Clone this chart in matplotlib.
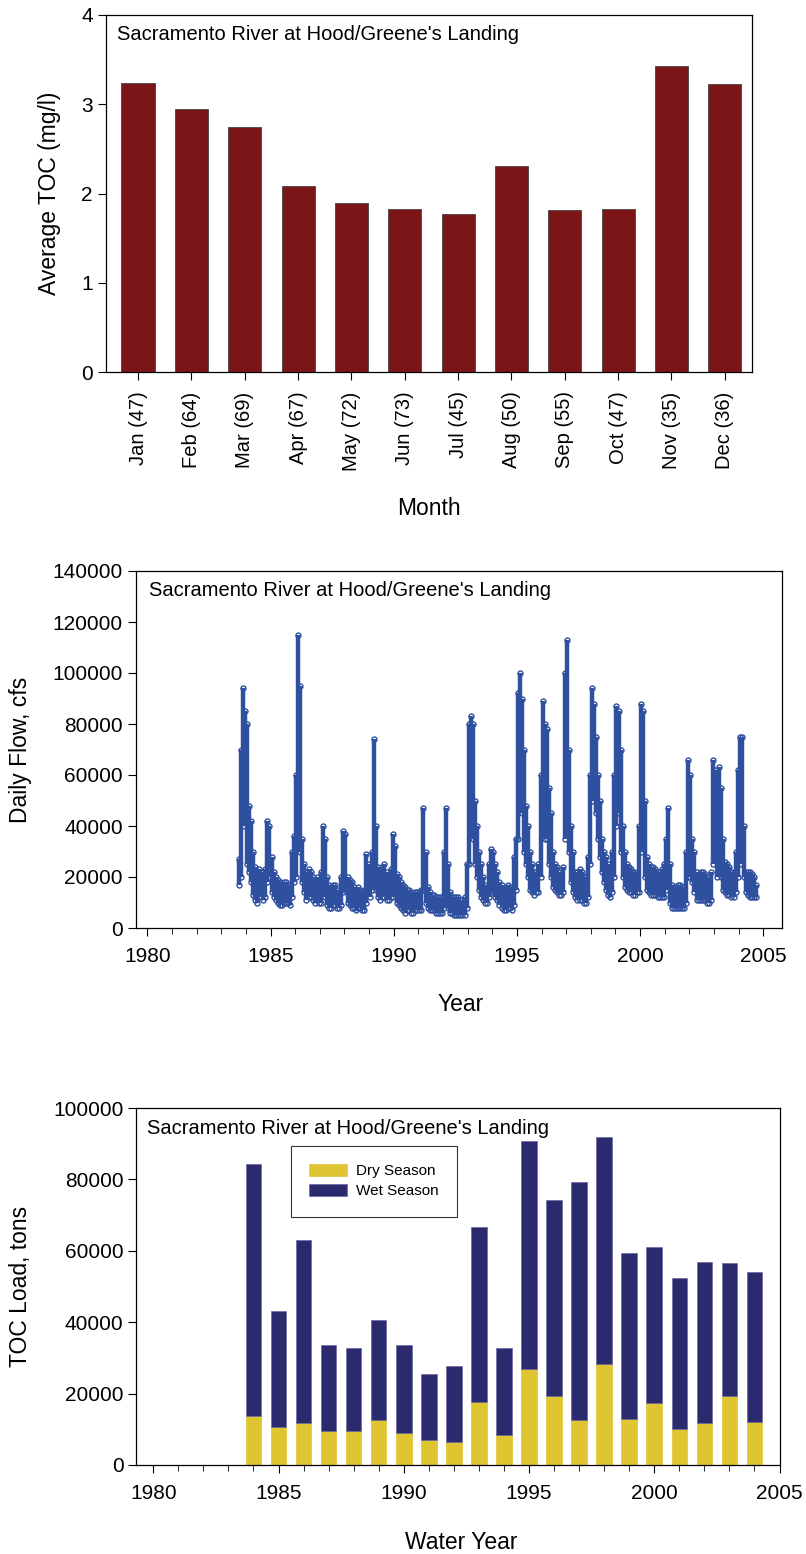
import numpy as np
import matplotlib
matplotlib.use("Agg")
import matplotlib.pyplot as plt
from matplotlib.ticker import MultipleLocator

plt.rcParams['font.family'] = ['Liberation Sans', 'DejaVu Sans']

site = "Sacramento River at Hood/Greene's Landing"

# panel 1 - monthly average TOC
months = ['Jan (47)', 'Feb (64)', 'Mar (69)', 'Apr (67)', 'May (72)', 'Jun (73)',
          'Jul (45)', 'Aug (50)', 'Sep (55)', 'Oct (47)', 'Nov (35)', 'Dec (36)']
avg_toc = [3.24, 2.95, 2.75, 2.08, 1.89, 1.83, 1.77, 2.31, 1.82, 1.83, 3.43, 3.23]

# panel 2 - daily flow, monthly low / high envelope (1000 cfs)
flow_start = 1983 + 8.5 / 12  # Sep 1983
flow_low = [
    17, 20, 40, 45,                                   # 1983 Sep-Dec
    25, 22, 18, 13, 11, 10, 12, 12, 11, 12, 18, 20,   # 1984
    14, 12, 11, 10, 9, 9, 10, 10, 10, 9, 12, 18,      # 1985
    20, 45, 30, 18, 14, 11, 12, 12, 11, 10, 11, 10,   # 1986
    10, 14, 12, 9, 8, 8, 9, 9, 8, 8, 9, 14,           # 1987
    15, 10, 9, 8, 8, 7, 8, 8, 7, 7, 10, 15,           # 1988
    12, 15, 25, 15, 12, 11, 12, 12, 11, 11, 12, 12,   # 1989
    14, 10, 9, 8, 7, 6, 7, 7, 6, 6, 7, 7,             # 1990
    7, 7, 15, 10, 8, 7, 7, 7, 6, 6, 6, 6,             # 1991
    8, 12, 8, 6, 6, 5, 5, 5, 5, 5, 5, 8,              # 1992
    25, 40, 35, 25, 20, 15, 12, 11, 10, 10, 12, 15,   # 1993
    14, 12, 11, 9, 8, 7, 7, 8, 8, 7, 9, 15,           # 1994
    35, 50, 45, 30, 25, 20, 15, 14, 13, 14, 14, 20,   # 1995
    40, 35, 35, 25, 20, 16, 15, 14, 13, 13, 14, 35,   # 1996
    50, 30, 18, 14, 12, 11, 11, 11, 10, 10, 12, 25,   # 1997
    50, 55, 45, 35, 28, 22, 18, 15, 13, 12, 14, 20,   # 1998
    40, 45, 30, 20, 16, 15, 14, 14, 13, 13, 14, 14,   # 1999
    30, 40, 20, 15, 14, 13, 13, 13, 12, 12, 12, 12,   # 2000
    15, 18, 10, 8, 8, 8, 8, 8, 8, 8, 10, 20,          # 2001
    20, 18, 14, 11, 11, 11, 11, 11, 10, 10, 11, 25,   # 2002
    30, 20, 25, 20, 15, 14, 13, 13, 12, 12, 14, 20,   # 2003
    25, 30, 20, 14, 13, 12, 12, 12, 12,               # 2004 Jan-Sep
]
flow_high = [
    27, 70, 94, 85,
    80, 48, 42, 30, 24, 22, 23, 22, 20, 23, 42, 40,
    28, 22, 20, 19, 18, 17, 18, 18, 17, 16, 30, 36,
    60, 115, 95, 35, 25, 22, 23, 22, 20, 18, 20, 18,
    22, 40, 35, 20, 17, 16, 17, 17, 15, 14, 20, 38,
    37, 20, 19, 18, 16, 15, 16, 15, 14, 15, 29, 25,
    24, 30, 74, 40, 24, 22, 24, 25, 22, 21, 23, 37,
    32, 21, 20, 18, 17, 16, 15, 15, 14, 13, 14, 14,
    14, 15, 47, 30, 16, 14, 13, 13, 12, 12, 12, 12,
    30, 47, 25, 14, 12, 12, 12, 12, 11, 11, 12, 25,
    80, 83, 80, 50, 40, 30, 25, 20, 17, 16, 25, 31,
    30, 25, 22, 18, 17, 15, 16, 17, 16, 14, 28, 35,
    92, 100, 90, 70, 48, 40, 30, 25, 22, 22, 25, 60,
    89, 80, 78, 55, 45, 30, 25, 24, 22, 21, 24, 100,
    113, 70, 40, 30, 22, 22, 23, 22, 20, 20, 28, 60,
    94, 88, 75, 60, 50, 35, 30, 28, 25, 24, 30, 60,
    87, 85, 70, 40, 30, 25, 24, 23, 22, 21, 22, 40,
    88, 85, 50, 28, 25, 24, 24, 23, 22, 22, 23, 25,
    35, 47, 25, 17, 16, 16, 17, 17, 16, 15, 30, 66,
    60, 35, 30, 22, 21, 22, 22, 21, 20, 19, 22, 66,
    62, 45, 63, 55, 35, 26, 25, 24, 22, 22, 30, 62,
    75, 75, 40, 22, 22, 22, 21, 20, 17,
]

# panel 3 - TOC load by water year (tons)
water_years = list(range(1984, 2005))
dry_load = [13800, 10700, 11700, 9600, 9600, 12700, 9100, 7100, 6500, 17700, 8500,
            27000, 19400, 12700, 28400, 13000, 17500, 10200, 11700, 19400, 12100]
wet_load = [70400, 32400, 51200, 24100, 23300, 27900, 24500, 18400, 21200, 48900, 24300,
            63800, 54900, 66600, 63400, 46400, 43700, 42300, 45300, 37200, 41900]

W, H = 806, 1554
fig = plt.figure(figsize=(W / 100, H / 100), dpi=100)


def box(l, r, t, b):
    return [l / W, 1 - b / H, (r - l) / W, (b - t) / H]


tick_fs = 15
lab_fs = 16.5
title_fs = 14.5

# ---- panel 1
ax1 = fig.add_axes(box(106, 752, 15, 372))
x = np.arange(len(months))
ax1.bar(x, avg_toc, width=0.62, color='#7b1517', edgecolor='#444444', linewidth=0.6)
ax1.set_xlim(-0.6, 11.51)
ax1.set_ylim(0, 4)
ax1.set_yticks([0, 1, 2, 3, 4])
ax1.set_xticks(x)
ax1.set_xticklabels(months, rotation=90, fontsize=14.5)
ax1.tick_params(axis='x', direction='out', length=6, pad=8)
ax1.tick_params(axis='y', direction='out', length=6, pad=3.5, labelsize=tick_fs)
ax1.set_ylabel('Average TOC (mg/l)', fontsize=lab_fs)
ax1.yaxis.set_label_coords((61 - 106) / 646, 0.5)
ax1.set_xlabel('Month', fontsize=lab_fs)
ax1.xaxis.set_label_coords(0.5, (372 - 497) / 357)
ax1.text(0.017, 0.944, site, transform=ax1.transAxes, fontsize=title_fs, va='center')

# ---- panel 2
ax2 = fig.add_axes(box(136, 782, 571, 928))
dates = flow_start + np.arange(len(flow_low)) / 12
lo = np.array(flow_low) * 1000
hi = np.array(flow_high) * 1000
blue = '#2f4f9f'
ax2.vlines(dates, lo, hi, color=blue, linewidth=3.2)
ax2.plot(dates, lo, 'o', ms=3.6, mfc='none', mec=blue, mew=1.0)
ax2.plot(dates, hi, 'o', ms=3.6, mfc='none', mec=blue, mew=1.0)
ax2.set_xlim(1979.54, 2005.76)
ax2.set_ylim(0, 140000)
ax2.set_yticks(range(0, 140001, 20000))
ax2.set_xticks(range(1980, 2006, 5))
ax2.xaxis.set_minor_locator(MultipleLocator(1))
ax2.tick_params(axis='both', which='major', direction='out', length=6, labelsize=tick_fs)
ax2.tick_params(axis='x', which='major', pad=7.5)
ax2.tick_params(axis='y', pad=3.5)
ax2.tick_params(axis='x', which='minor', direction='out', length=4)
ax2.set_ylabel('Daily Flow, cfs', fontsize=lab_fs)
ax2.yaxis.set_label_coords((32 - 136) / 646, 0.5)
ax2.set_xlabel('Year', fontsize=lab_fs)
ax2.xaxis.set_label_coords(0.502, (928 - 993) / 357)
ax2.text(0.0197, 0.945, site, transform=ax2.transAxes, fontsize=title_fs, va='center')

# ---- panel 3
ax3 = fig.add_axes(box(136, 779.5, 1108, 1465))
ax3.bar(water_years, dry_load, width=0.62, color='#e0c532', edgecolor='#e0c532',
        linewidth=0.5, label='Dry Season')
ax3.bar(water_years, wet_load, width=0.62, bottom=dry_load, color='#2c2a6f',
        edgecolor='#6a68a0', linewidth=0.5, label='Wet Season')
ax3.set_xlim(1979.31, 2005)
ax3.set_ylim(0, 100000)
ax3.set_yticks(range(0, 100001, 20000))
ax3.set_xticks(range(1980, 2006, 5))
ax3.xaxis.set_minor_locator(MultipleLocator(1))
ax3.tick_params(axis='both', which='major', direction='out', length=5.5, labelsize=tick_fs)
ax3.tick_params(axis='x', which='major', pad=8.5)
ax3.tick_params(axis='y', pad=3.5)
ax3.tick_params(axis='x', which='minor', direction='out', length=4)
ax3.set_ylabel('TOC Load, tons', fontsize=lab_fs)
ax3.yaxis.set_label_coords((32 - 136) / 643.5, 0.5)
ax3.set_xlabel('Water Year', fontsize=lab_fs)
ax3.xaxis.set_label_coords(0.505, (1465 - 1531) / 357)
ax3.text(0.0166, 0.943, site, transform=ax3.transAxes, fontsize=title_fs, va='center')
leg = ax3.legend(loc='upper left', bbox_to_anchor=(0.2406, 0.8944), fontsize=11,
                 frameon=True, fancybox=False, edgecolor='black', borderpad=1.2,
                 handlelength=2.5, handleheight=0.83, handletextpad=0.57,
                 labelspacing=0.37, borderaxespad=0)
leg.get_frame().set_linewidth(0.8)

for ax in (ax1, ax2, ax3):
    for s in ax.spines.values():
        s.set_linewidth(0.9)

fig.savefig('out.png', dpi=100)
